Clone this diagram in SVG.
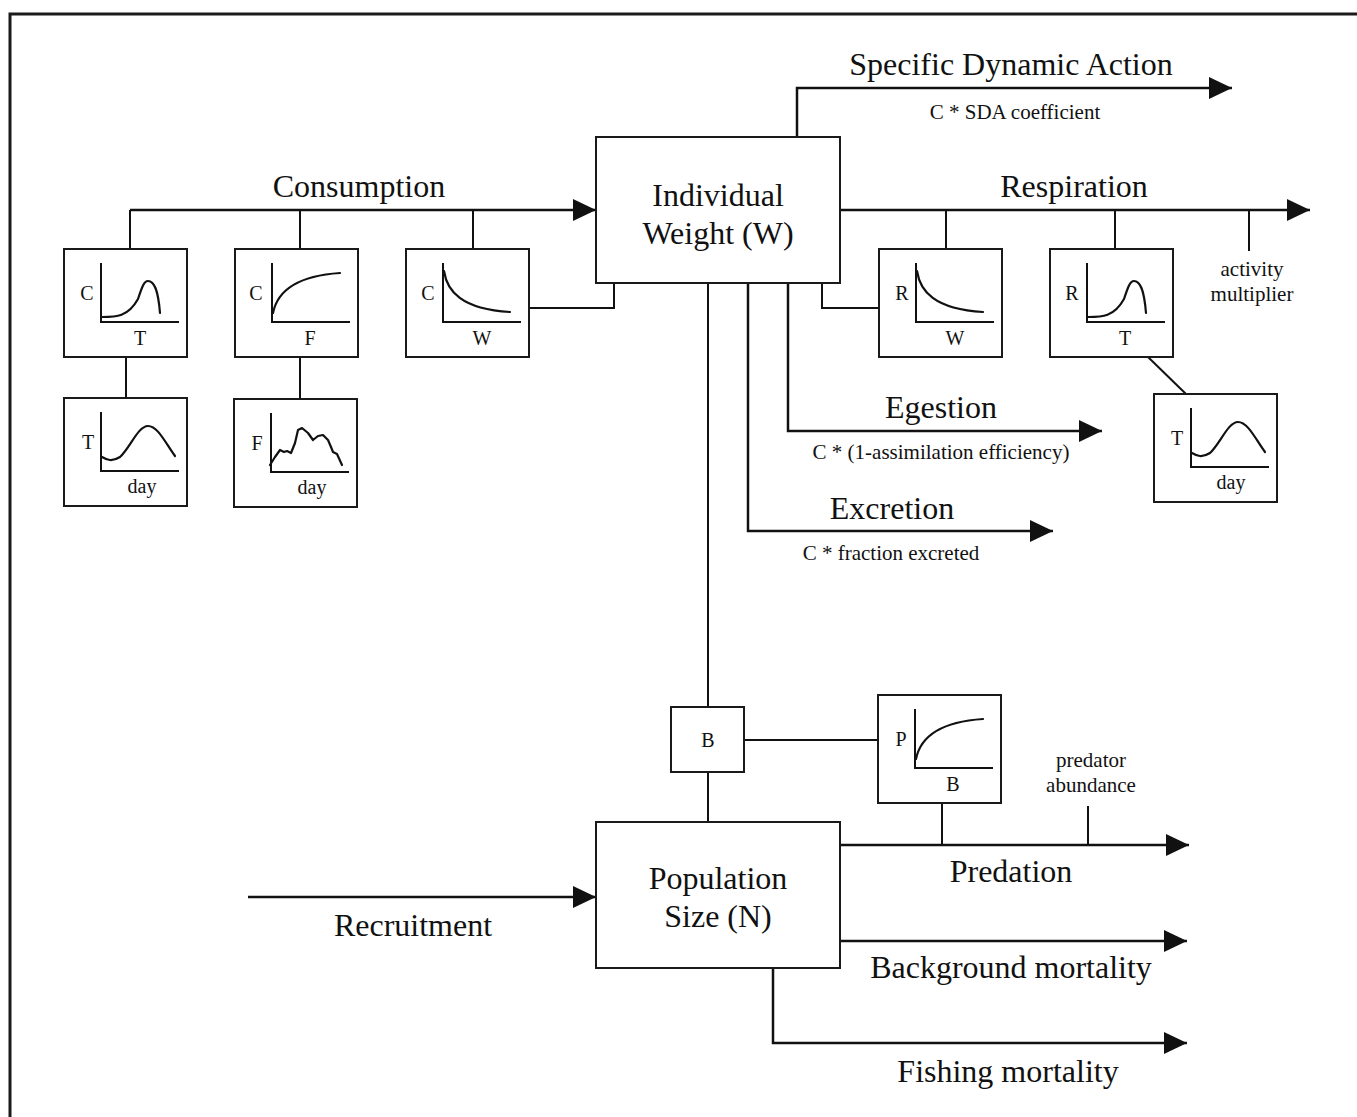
<svg xmlns="http://www.w3.org/2000/svg" xmlns:xlink="http://www.w3.org/1999/xlink" width="1357" height="1117" viewBox="0 0 1357 1117">
  <style>
    .box { fill: #fff; stroke: #1a1a1a; stroke-width: 2; }
    .ln { fill: none; stroke: #111; stroke-width: 2; }
    .arr { fill: none; stroke: #111; stroke-width: 2.5; marker-end: url(#tip); }
    .crv { fill: none; stroke: #111; stroke-width: 2.2; stroke-linejoin: round; stroke-linecap: round; }
    text { font-family: "Liberation Serif", "Times New Roman", serif; fill: #111; text-anchor: middle; }
    .big { font-size: 32px; }
    .sm { font-size: 21px; }
    .lab { font-size: 20px; }
  </style>
  <defs>
    <marker id="tip" markerUnits="userSpaceOnUse" markerWidth="23" markerHeight="22" refX="23" refY="11" orient="auto">
      <path d="M0,0 L23,11 L0,22 Z" fill="#111"/>
    </marker>
    <!-- small function plot: frame plus axes -->
    <g id="plot">
      <rect class="box" x="0" y="0" width="123" height="108"/>
      <path class="ln" d="M37,14 V73 H115"/>
    </g>
    <path id="peak" class="crv" d="M38,68 C52,68 64,68 74,50 C78,38 80,32 84,32 C90,32 94,40 96,64"/>
    <path id="decay" class="crv" d="M38,22 C41,42 55,60 104,63"/>
    <path id="satur" class="crv" d="M38,64 C42,44 60,27 105,24"/>
    <path id="season" class="crv" d="M38,59 C43,62 48,64 56,59 C66,50 74,28 84,28 C94,28 102,46 111,58"/>
  </defs>

  <rect width="1357" height="1117" fill="#fff"/>
  <!-- outer frame -->
  <path d="M10,1117 V14 H1357" fill="none" stroke="#1a1a1a" stroke-width="3"/>

  <!-- connectors -->
  <g id="connectors">
    <path class="arr" d="M130,210 H596"/>
    <path class="ln" d="M130,210 V249 M300,210 V249 M473,210 V249"/>
    <path class="ln" d="M126,357 V398 M300,357 V399"/>
    <path class="ln" d="M529,308 H614 V283"/>
    <path class="ln" d="M708,283 V707"/>
    <path class="arr" d="M748,283 V531 H1053"/>
    <path class="arr" d="M788,283 V431 H1102"/>
    <path class="ln" d="M822,283 V308 H879"/>
    <path class="arr" d="M797,137 V88 H1232"/>
    <path class="arr" d="M840,210 H1310"/>
    <path class="ln" d="M946,210 V249 M1115,210 V249 M1249,210 V251"/>
    <path class="ln" d="M1148,357 L1186,394"/>
    <path class="ln" d="M744,740 H878 M708,772 V822"/>
    <path class="ln" d="M942,803 V845 M1088,806 V845"/>
    <path class="arr" d="M840,845 H1189"/>
    <path class="arr" d="M840,941 H1187"/>
    <path class="arr" d="M773,968 V1043 H1187"/>
    <path class="arr" d="M248,897 H596"/>
  </g>

  <!-- flow labels -->
  <g id="labels">
    <text class="big" x="359" y="197">Consumption</text>
    <text class="big" x="1011" y="75">Specific Dynamic Action</text>
    <text class="sm" x="1015" y="119">C * SDA coefficient</text>
    <text class="big" x="1074" y="197">Respiration</text>
    <text class="sm" x="1252" y="276">activity</text>
    <text class="sm" x="1252" y="301">multiplier</text>
    <text class="big" x="941" y="418">Egestion</text>
    <text class="sm" x="941" y="459">C * (1-assimilation efficiency)</text>
    <text class="big" x="892" y="519">Excretion</text>
    <text class="sm" x="891" y="560">C * fraction excreted</text>
    <text class="sm" x="1091" y="767">predator</text>
    <text class="sm" x="1091" y="792">abundance</text>
    <text class="big" x="1011" y="882">Predation</text>
    <text class="big" x="1011" y="978">Background mortality</text>
    <text class="big" x="1008" y="1082">Fishing mortality</text>
    <text class="big" x="413" y="936">Recruitment</text>
  </g>

  <!-- state variables -->
  <g id="individual-weight">
    <rect class="box" x="596" y="137" width="244" height="146"/>
    <text class="big" x="718" y="206">Individual</text>
    <text class="big" x="718" y="244">Weight (W)</text>
  </g>
  <g id="population-size">
    <rect class="box" x="596" y="822" width="244" height="146"/>
    <text class="big" x="718" y="889">Population</text>
    <text class="big" x="718" y="927">Size (N)</text>
  </g>
  <g id="biomass">
    <rect class="box" x="671" y="707" width="73" height="65"/>
    <text class="lab" x="708" y="747">B</text>
  </g>

  <!-- consumption dependencies -->
  <g id="c-vs-t" transform="translate(64,249)">
    <use xlink:href="#plot"/><use xlink:href="#peak"/>
    <text class="lab" x="23" y="51">C</text><text class="lab" x="76" y="96">T</text>
  </g>
  <g id="t-vs-day" transform="translate(64,398)">
    <use xlink:href="#plot"/><use xlink:href="#season"/>
    <text class="lab" x="24" y="51">T</text><text class="lab" x="78" y="95">day</text>
  </g>
  <g id="c-vs-f" transform="translate(235,249)">
    <use xlink:href="#plot"/><use xlink:href="#satur"/>
    <text class="lab" x="21" y="51">C</text><text class="lab" x="75" y="96">F</text>
  </g>
  <g id="f-vs-day" transform="translate(234,399)">
    <use xlink:href="#plot"/>
    <path class="crv" d="M36,66 L41,58 L46,51 L50,53 L53,52 L57,54 L61,44 L64,31 L68,29 L74,34 L79,41 L84,37 L89,36 L94,41 L97,48 L99,53 L103,55 L108,66"/>
    <text class="lab" x="23" y="51">F</text><text class="lab" x="78" y="95">day</text>
  </g>
  <g id="c-vs-w" transform="translate(406,249)">
    <use xlink:href="#plot"/><use xlink:href="#decay"/>
    <text class="lab" x="22" y="51">C</text><text class="lab" x="76" y="96">W</text>
  </g>

  <!-- respiration dependencies -->
  <g id="r-vs-w" transform="translate(879,249)">
    <use xlink:href="#plot"/><use xlink:href="#decay"/>
    <text class="lab" x="23" y="51">R</text><text class="lab" x="76" y="96">W</text>
  </g>
  <g id="r-vs-t" transform="translate(1050,249)">
    <use xlink:href="#plot"/><use xlink:href="#peak"/>
    <text class="lab" x="22" y="51">R</text><text class="lab" x="75" y="96">T</text>
  </g>
  <g id="t-vs-day-2" transform="translate(1154,394)">
    <use xlink:href="#plot"/><use xlink:href="#season"/>
    <text class="lab" x="23" y="51">T</text><text class="lab" x="77" y="95">day</text>
  </g>

  <!-- predation dependency -->
  <g id="p-vs-b" transform="translate(878,695)">
    <use xlink:href="#plot"/><use xlink:href="#satur"/>
    <text class="lab" x="23" y="51">P</text><text class="lab" x="75" y="96">B</text>
  </g>
</svg>
